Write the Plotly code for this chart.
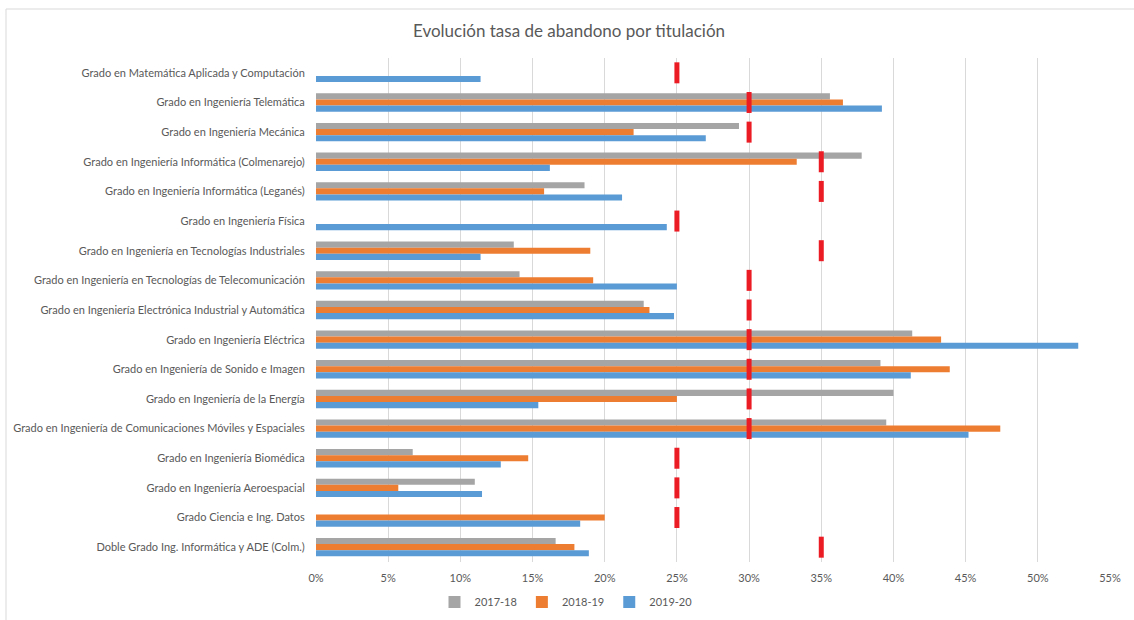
import plotly.graph_objects as go

categories = [
    "Grado en Matemática Aplicada y Computación",
    "Grado en Ingeniería Telemática",
    "Grado en Ingeniería Mecánica",
    "Grado en Ingeniería Informática (Colmenarejo)",
    "Grado en Ingeniería Informática (Leganés)",
    "Grado en Ingeniería Física",
    "Grado en Ingeniería en Tecnologías Industriales",
    "Grado en Ingeniería en Tecnologías de Telecomunicación",
    "Grado en Ingeniería Electrónica Industrial y Automática",
    "Grado en Ingeniería Eléctrica",
    "Grado en Ingeniería de Sonido e Imagen",
    "Grado en Ingeniería de la Energía",
    "Grado en Ingeniería de Comunicaciones Móviles y Espaciales",
    "Grado en Ingeniería Biomédica",
    "Grado en Ingeniería Aeroespacial",
    "Grado Ciencia e Ing. Datos",
    "Doble Grado Ing. Informática y ADE (Colm.)",
]

s2017_18 = [None, 35.6, 29.3, 37.8, 18.6, None, 13.7, 14.1, 22.7, 41.3, 39.1, 40.0, 39.5, 6.7, 11.0, None, 16.6]
s2018_19 = [None, 36.5, 22.0, 33.3, 15.8, None, 19.0, 19.2, 23.1, 43.3, 43.9, 25.0, 47.4, 14.7, 5.7, 20.0, 17.9]
s2019_20 = [11.4, 39.2, 27.0, 16.2, 21.2, 24.3, 11.4, 25.0, 24.8, 52.8, 41.2, 15.4, 45.2, 12.8, 11.5, 18.3, 18.9]
objetivo = [25, 30, 30, 35, 35, 25, 35, 30, 30, 30, 30, 30, 30, 25, 25, 25, 35]

series_names = ["2017-18", "2018-19", "2019-20"]
series_colors = ["#A5A5A5", "#ED7D31", "#5B9BD5"]
x_ticks = list(range(0, 56, 5))

FONT = "Lato"
TXT = "#595959"

fig = go.Figure()
for name, vals, col in zip(series_names, [s2017_18, s2018_19, s2019_20], series_colors):
    fig.add_trace(go.Bar(
        name=name, y=categories, x=vals, orientation="h",
        marker=dict(color=col, line=dict(width=0)),
    ))

fig.add_trace(go.Scatter(
    x=objetivo, y=categories, mode="markers", showlegend=False,
    marker=dict(symbol="line-ns", size=15, color="#EC1C24",
                line=dict(width=5, color="#EC1C24")),
))

L, R, T, B = 316, 24, 58, 58
W, H = 1134, 620
pw, ph = W - L - R, H - T - B

def px_x(p):
    return (p - L) / pw

def px_y(p):
    return (H - B - p) / ph

n = len(categories)

fig.update_layout(
    width=W, height=H,
    margin=dict(l=L, r=R, t=T, b=B, autoexpand=False),
    paper_bgcolor="white", plot_bgcolor="white",
    barmode="group", bargap=0.38, bargroupgap=0,
    font=dict(family=FONT, size=11, color=TXT),
    title=dict(text="Evolución tasa de abandono por titulación",
               font=dict(family=FONT, size=17, color=TXT),
               x=px_x(569), xref="paper", xanchor="center",
               y=1 - 31.5 / H, yref="container", yanchor="middle"),
    legend=dict(orientation="h", x=px_x(566), xanchor="center",
                y=px_y(602), yanchor="middle",
                font=dict(family=FONT, size=11, color=TXT),
                itemwidth=30, traceorder="normal"),
    xaxis=dict(range=[0, 55], tickmode="array", tickvals=x_ticks,
               ticktext=[f"{v}%" for v in x_ticks],
               showgrid=True, gridcolor="#D9D9D9", gridwidth=1,
               zeroline=False, showline=False,
               ticks="outside", ticklen=6, tickcolor="rgba(0,0,0,0)",
               tickfont=dict(family=FONT, size=11, color=TXT), fixedrange=True),
    yaxis=dict(type="category", range=[n - 0.5, -0.5],
               showgrid=False, zeroline=False, showline=False,
               ticks="outside", ticklen=8, tickcolor="rgba(0,0,0,0)",
               tickfont=dict(family=FONT, size=11, color=TXT), fixedrange=True),
    shapes=[dict(type="rect", xref="paper", yref="paper",
                 x0=px_x(6), x1=px_x(1150), y0=px_y(640), y1=px_y(9),
                 line=dict(color="#D9D9D9", width=1), fillcolor="rgba(0,0,0,0)",
                 layer="below")],
)

fig.write_html("out.html",
               config={"displayModeBar": False},
               post_script="document.body.style.margin='0';document.body.style.overflow='hidden';")
